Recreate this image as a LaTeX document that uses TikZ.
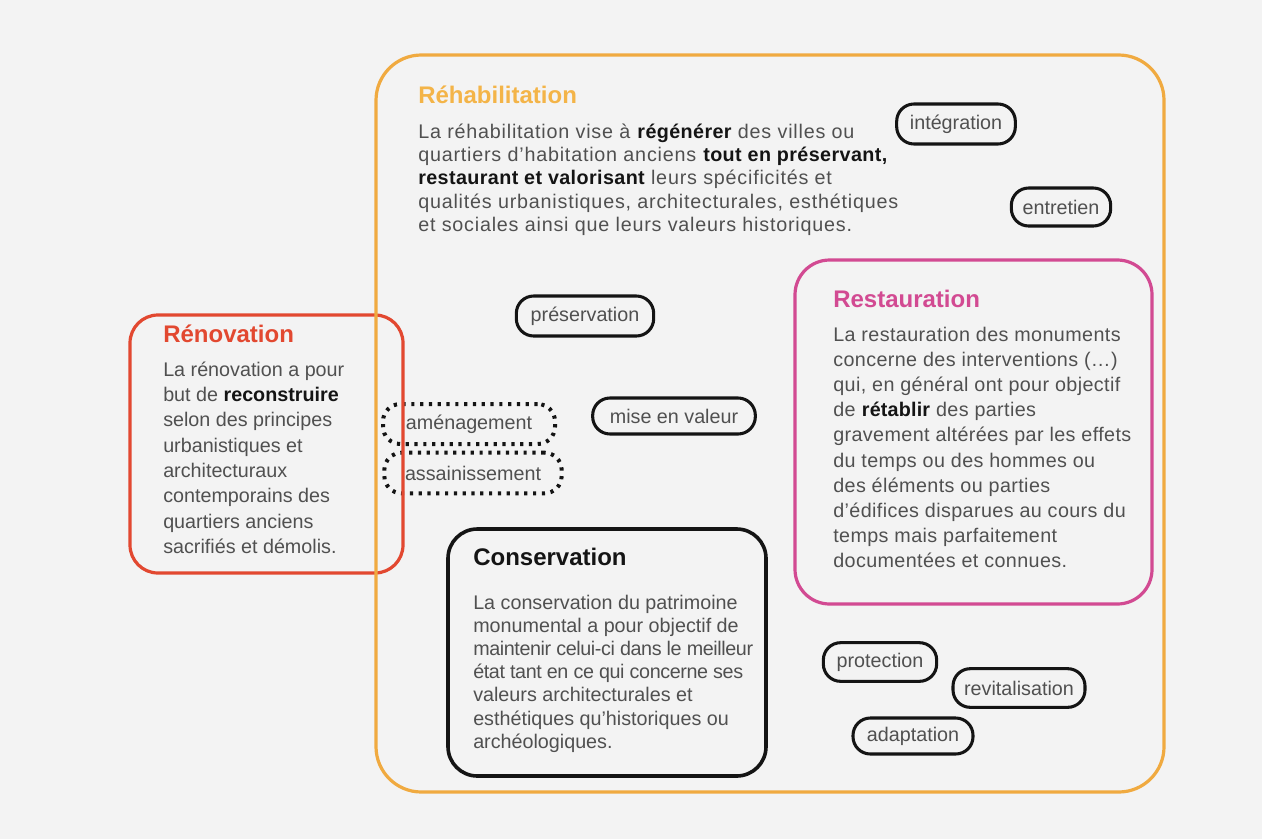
\documentclass[tikz,border=0pt]{standalone}
\usepackage{fontspec}
\setmainfont{Liberation Sans}
\newfontfamily\rehabfont[LetterSpace=4,BoldFeatures={LetterSpace=2}]{Liberation Sans}
\newfontfamily\restafont[LetterSpace=2,BoldFeatures={LetterSpace=1}]{Liberation Sans}
\newfontfamily\consnarrow[LetterSpace=-2]{Liberation Sans}
\definecolor{bg}{RGB}{243,243,243}
\definecolor{rehabline}{RGB}{240,170,64}
\definecolor{rehab}{RGB}{243,180,72}
\definecolor{renov}{RGB}{226,72,48}
\definecolor{resta}{RGB}{210,74,146}
\definecolor{bodygray}{RGB}{80,80,80}
\definecolor{ink}{RGB}{20,20,20}
\newcommand{\bb}[1]{\textbf{\color{ink}#1}}
\begin{document}
\begin{tikzpicture}[x=0.75pt,y=-0.75pt,
  bodytext/.style={anchor=base west,inner sep=0pt,text=bodygray},
  titletext/.style={anchor=base west,inner sep=0pt,font=\fontsize{18}{20}\selectfont\bfseries},
  tag/.style={draw=ink,line width=2.3pt,rounded corners=13pt,text=bodygray,
    font=\fontsize{14.8}{17}\selectfont,inner xsep=0pt,inner ysep=0pt},
  dottag/.style={tag,dash pattern=on 2.4pt off 4.2pt,line width=3pt},
  bigbox/.style={line width=2.4pt}]
\useasboundingbox (0,0) rectangle (1262,839);
\fill[bg] (0,0) rectangle (1262,839);

% tags
\node[dottag,minimum width=129pt,minimum height=30pt] (amenagement) at (469,424) {aménagement};
\node[dottag,minimum width=133pt,minimum height=30.5pt] (assainissement) at (473,473) {assainissement};
\node[tag,minimum width=89pt,minimum height=30pt] (integration) at (956,124) {intégration};
\node[tag,minimum width=74.5pt,minimum height=28.5pt] (entretien) at (1061,207) {entretien};
\node[tag,minimum width=103pt,minimum height=30pt] (preservation) at (585,316) {préservation};
\node[tag,minimum width=122pt,minimum height=27pt] (miseenvaleur) at (674,416) {mise en valeur};
\node[tag,minimum width=85pt,minimum height=29pt] (protection) at (880,662) {protection};
\node[tag,minimum width=99pt,minimum height=29pt] (revitalisation) at (1019,688) {revitalisation};
\node[tag,minimum width=90pt,minimum height=27pt] (adaptation) at (913,736) {adaptation};

% Rénovation
\draw[bigbox,draw=renov,rounded corners=21pt] (130,315) rectangle (403,573);
\node[titletext,text=renov] (renovtitle) at (163,342) {Rénovation};
\node[bodytext] (renovbody) at (163,376) {\parbox[t]{200pt}{\fontsize{14.8}{19}\selectfont\raggedright
La rénovation a pour\\
but de \bb{reconstruire}\\
selon des principes\\
urbanistiques et\\
architecturaux\\
contemporains des\\
quartiers anciens\\
sacrifiés et démolis.}};

% Réhabilitation
\draw[bigbox,draw=rehabline,rounded corners=34pt] (376,55) rectangle (1164,792);
\node[titletext,text=rehab] (rehabtitle) at (418,103) {Réhabilitation};
\node[bodytext] (rehabbody) at (418,138) {\parbox[t]{420pt}{\rehabfont\fontsize{14.8}{17.6}\selectfont\raggedright
La réhabilitation vise à \bb{régénérer} des villes ou\\
quartiers d’habitation anciens \bb{tout en préservant,}\\
\bb{restaurant et valorisant} leurs spécificités et\\
qualités urbanistiques, architecturales, esthétiques\\
et sociales ainsi que leurs valeurs historiques.}};

% Restauration
\draw[bigbox,draw=resta,rounded corners=26pt] (795,260) rectangle (1152,604);
\node[titletext,text=resta] (restatitle) at (833,307) {Restauration};
\node[bodytext] (restabody) at (833,341) {\parbox[t]{260pt}{\restafont\fontsize{14.8}{18.9}\selectfont\raggedright
La restauration des monuments\\
concerne des interventions (…)\\
qui, en général ont pour objectif\\
de \bb{rétablir} des parties\\
gravement altérées par les effets\\
du temps ou des hommes ou\\
des éléments ou parties\\
d’édifices disparues au cours du\\
temps mais parfaitement\\
documentées et connues.}};

% Conservation
\draw[bigbox,draw=ink,line width=2.7pt,rounded corners=22pt] (448,529) rectangle (766,776);
\node[titletext,text=ink] (constitle) at (473,565) {Conservation};
\node[bodytext] (consbody) at (473,609) {\parbox[t]{260pt}{\fontsize{14.8}{17.4}\selectfont\raggedright
La conservation du patrimoine\\
monumental a pour objectif de\\
{\consnarrow\fontsize{14.8}{17.4}\selectfont maintenir celui-ci dans le meilleur}\\
{\consnarrow\fontsize{14.8}{17.4}\selectfont état tant en ce qui concerne ses}\\
valeurs architecturales et\\
esthétiques qu’historiques ou\\
archéologiques.}};
\end{tikzpicture}
\end{document}
